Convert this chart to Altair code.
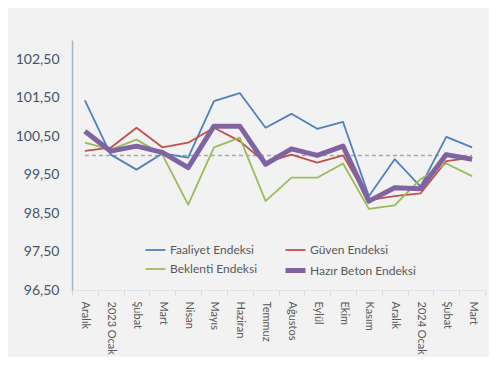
import altair as alt
import pandas as pd

cats = ["Aralık", "2023 Ocak", "Şubat", "Mart", "Nisan", "Mayıs", "Haziran", "Temmuz",
        "Ağustos", "Eylül", "Ekim", "Kasım", "Aralık", "2024 Ocak", "Şubat", "Mart"]

faaliyet = [101.43, 100.02, 99.63, 100.05, 99.94, 101.41, 101.62, 100.72,
            101.08, 100.69, 100.87, 98.94, 99.90, 99.19, 100.48, 100.21]
guven = [100.12, 100.20, 100.72, 100.21, 100.33, 100.72, 100.37, 99.81,
         100.02, 99.81, 100.00, 98.84, 98.94, 99.01, 99.85, 99.94]
beklenti = [100.33, 100.15, 100.41, 100.02, 98.72, 100.21, 100.46, 98.81,
            99.42, 99.42, 99.79, 98.61, 98.70, 99.38, 99.79, 99.46]
hazir = [100.63, 100.11, 100.24, 100.08, 99.68, 100.76, 100.76, 99.77,
         100.17, 100.00, 100.24, 98.81, 99.16, 99.13, 100.02, 99.90]

series_names = ["Faaliyet Endeksi", "Güven Endeksi", "Beklenti Endeksi", "Hazır Beton Endeksi"]
# legend order (column-major fill in a 2-column legend)
legend_order = ["Faaliyet Endeksi", "Beklenti Endeksi", "Güven Endeksi", "Hazır Beton Endeksi"]
colors = ["#4f81bd", "#9bbb59", "#c0504d", "#8064a2"]
widths = [1.8, 1.8, 1.8, 5.0]
y_ticks = [96.5, 97.5, 98.5, 99.5, 100.5, 101.5, 102.5]
ref_value = 100

keys = [f"{i:02d}|{c}" for i, c in enumerate(cats)]
rows = []
for name, vals in zip(series_names, [faaliyet, guven, beklenti, hazir]):
    for k, v in zip(keys, vals):
        rows.append({"key": k, "series": name, "value": v})
df = pd.DataFrame(rows)
base_df = pd.DataFrame({"key": keys})

x = alt.X(
    "key:N", sort=keys,
    scale=alt.Scale(type="band", paddingInner=0, paddingOuter=0),
    axis=alt.Axis(title=None, labelExpr="split(datum.label,'|')[1]", labelAngle=90,
                  labelAlign="left", labelBaseline="middle", labelPadding=6,
                  labelFontSize=11, labelColor="#595959", domainColor="#dde3e8",
                  tickColor="#d3dae0", tickSize=5, tickBand="extent", grid=False),
)
y = alt.Y(
    "value:Q",
    scale=alt.Scale(domain=[96.5, 103], nice=False, zero=False),
    axis=alt.Axis(title=None, values=y_ticks,
                  labelExpr="replace(format(datum.value,'.2f'),'.',',')",
                  labelFontSize=14, labelColor="#44546a", labelPadding=13,
                  domainColor="#a3b5c4", domainWidth=1.5, ticks=False,
                  gridColor="#dfe4e9"),
)

leg = alt.Legend(orient="none", legendX=71, legendY=199, columns=2, symbolType="stroke",
                 symbolSize=400, labelFontSize=12, labelColor="#595959", title=None,
                 columnPadding=17, rowPadding=2, labelOffset=2)

ref = alt.Chart(base_df).mark_line(color="#a6a6a6", strokeDash=[4, 3], strokeWidth=1.5).encode(
    x=x, y=alt.datum(ref_value)
)

lines = alt.Chart(df).mark_line(strokeJoin="round").encode(
    x=x, y=y,
    color=alt.Color("series:O", scale=alt.Scale(domain=legend_order, range=colors), legend=leg),
    strokeWidth=alt.StrokeWidth("series:O", scale=alt.Scale(type="ordinal", domain=legend_order, range=widths), legend=leg),
)

chart = alt.layer(ref, lines).properties(
    width=413, height=250,
    autosize=alt.AutoSizeParams(type="none"),
    padding={"left": 64, "top": 32, "right": 4, "bottom": 67},
).configure(background="#f2f2f2", font="Lato").configure_view(stroke=None)

chart.save("out.html", embed_options={"renderer": "svg", "actions": False})
